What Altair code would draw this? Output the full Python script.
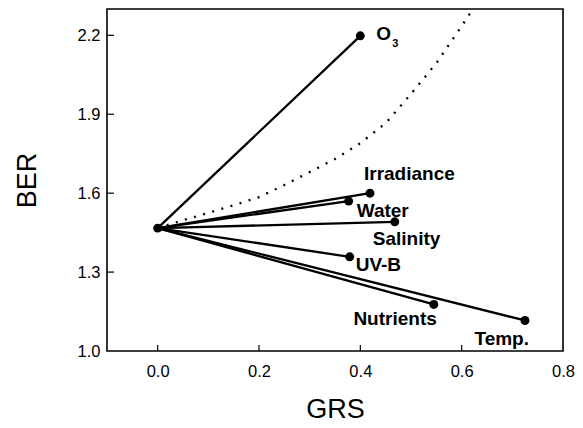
import altair as alt
import pandas as pd

# ---- data ----
factors = ["O3", "Irradiance", "Water", "Salinity", "UV-B", "Nutrients", "Temp."]
grs = [0.400, 0.419, 0.377, 0.468, 0.379, 0.545, 0.725]
ber = [2.198, 1.600, 1.570, 1.491, 1.358, 1.177, 1.116]
origin_grs = 0.0
origin_ber = 1.467

curve_grs = [0.0, 0.05, 0.10, 0.15, 0.20, 0.25, 0.30, 0.35, 0.40, 0.45, 0.50, 0.55, 0.60, 0.622]
curve_ber = [1.467, 1.497, 1.525, 1.554, 1.585, 1.631, 1.680, 1.730, 1.790, 1.866, 1.977, 2.094, 2.235, 2.300]

x_tick_values = [0.0, 0.2, 0.4, 0.6, 0.8]
y_tick_values = [1.0, 1.3, 1.6, 1.9, 2.2]
x_inner_ticks = [0.0, 0.2, 0.4, 0.6]
y_inner_ticks = [1.3, 1.6, 1.9, 2.2]

FONT = "Liberation Sans"
W, H = 456, 342

# ---- tables ----
rows = []
for f, gx, by in zip(factors, grs, ber):
    rows.append({"factor": f, "order": 0, "GRS": origin_grs, "BER": origin_ber})
    rows.append({"factor": f, "order": 1, "GRS": gx, "BER": by})
seg_df = pd.DataFrame(rows)
pts_df = pd.DataFrame({"factor": factors + ["origin"],
                       "GRS": grs + [origin_grs],
                       "BER": ber + [origin_ber]})
curve_df = pd.DataFrame({"GRS": curve_grs, "BER": curve_ber})

xscale = alt.Scale(domain=[-0.1, 0.8], nice=False, zero=False)
yscale = alt.Scale(domain=[1.0, 2.3], nice=False, zero=False)

xaxis = alt.Axis(values=x_tick_values, format=".1f", labelFlush=False, domain=False,
                 ticks=False, grid=False, labelFontSize=16.5, labelFont=FONT,
                 labelColor="black", labelPadding=12, title="GRS", titleFont=FONT,
                 titleFontSize=27, titleFontWeight="normal", titleColor="black",
                 titlePadding=17)
yaxis = alt.Axis(values=y_tick_values, format=".1f", domain=False, ticks=False,
                 grid=False, labelFontSize=16.5, labelFont=FONT, labelColor="black",
                 labelPadding=7, labelOverlap=False, title="BER", titleFont=FONT,
                 titleFontSize=27, titleFontWeight="normal", titleColor="black",
                 titlePadding=36)

X = alt.X("GRS:Q", scale=xscale, axis=xaxis)
Y = alt.Y("BER:Q", scale=yscale, axis=yaxis)

segments = alt.Chart(seg_df).mark_line(color="black", strokeWidth=2.3).encode(
    x=X, y=Y, detail="factor:N", order="order:Q")

curve = alt.Chart(curve_df).mark_line(color="black", strokeWidth=2.3,
                                      strokeDash=[2, 7.5], clip=True).encode(
    x="GRS:Q", y="BER:Q")

points = alt.Chart(pts_df).mark_circle(color="black", opacity=1, size=80).encode(
    x="GRS:Q", y="BER:Q")

xt = alt.Chart(pd.DataFrame({"v": x_inner_ticks})).mark_rule(
    color="black", strokeWidth=1.2).encode(
    x="v:Q", y=alt.value(H), y2=alt.value(H - 6))
yt = alt.Chart(pd.DataFrame({"v": y_inner_ticks})).mark_rule(
    color="black", strokeWidth=1.2).encode(
    y="v:Q", x=alt.value(0), x2=alt.value(7))

# label offsets (pixel) relative to each point
label_style = {
    "O3": dict(text="O", dx=16, dy=4, align="left"),
    "Irradiance": dict(text="Irradiance", dx=-6, dy=-13, align="left"),
    "Water": dict(text="Water", dx=8, dy=16, align="left"),
    "Salinity": dict(text="Salinity", dx=-22, dy=23, align="left"),
    "UV-B": dict(text="UV-B", dx=6, dy=14, align="left"),
    "Nutrients": dict(text="Nutrients", dx=3, dy=21, align="right"),
    "Temp.": dict(text="Temp.", dx=4, dy=25, align="right"),
}
labels = []
for f in factors:
    s = label_style[f]
    d = pts_df[pts_df["factor"] == f]
    labels.append(alt.Chart(d).mark_text(
        text=s["text"], dx=s["dx"], dy=s["dy"], align=s["align"],
        baseline="alphabetic", font=FONT, fontSize=19, fontWeight="bold",
        color="black").encode(x="GRS:Q", y="BER:Q"))
# subscript 3 of O3
labels.append(alt.Chart(pts_df[pts_df["factor"] == "O3"]).mark_text(
    text="3", dx=32, dy=11, align="left", baseline="alphabetic", font=FONT,
    fontSize=11, fontWeight="bold", color="black").encode(x="GRS:Q", y="BER:Q"))

chart = alt.layer(segments, curve, points, xt, yt, *labels).properties(
    width=W, height=H,
    background="white",
    autosize=alt.AutoSizeParams(type="none"),
    padding={"left": 107, "top": 9, "right": 20, "bottom": 77},
).configure_view(stroke="black", strokeWidth=1.6)

chart.save("out.html", embed_options={"renderer": "svg", "actions": False})
